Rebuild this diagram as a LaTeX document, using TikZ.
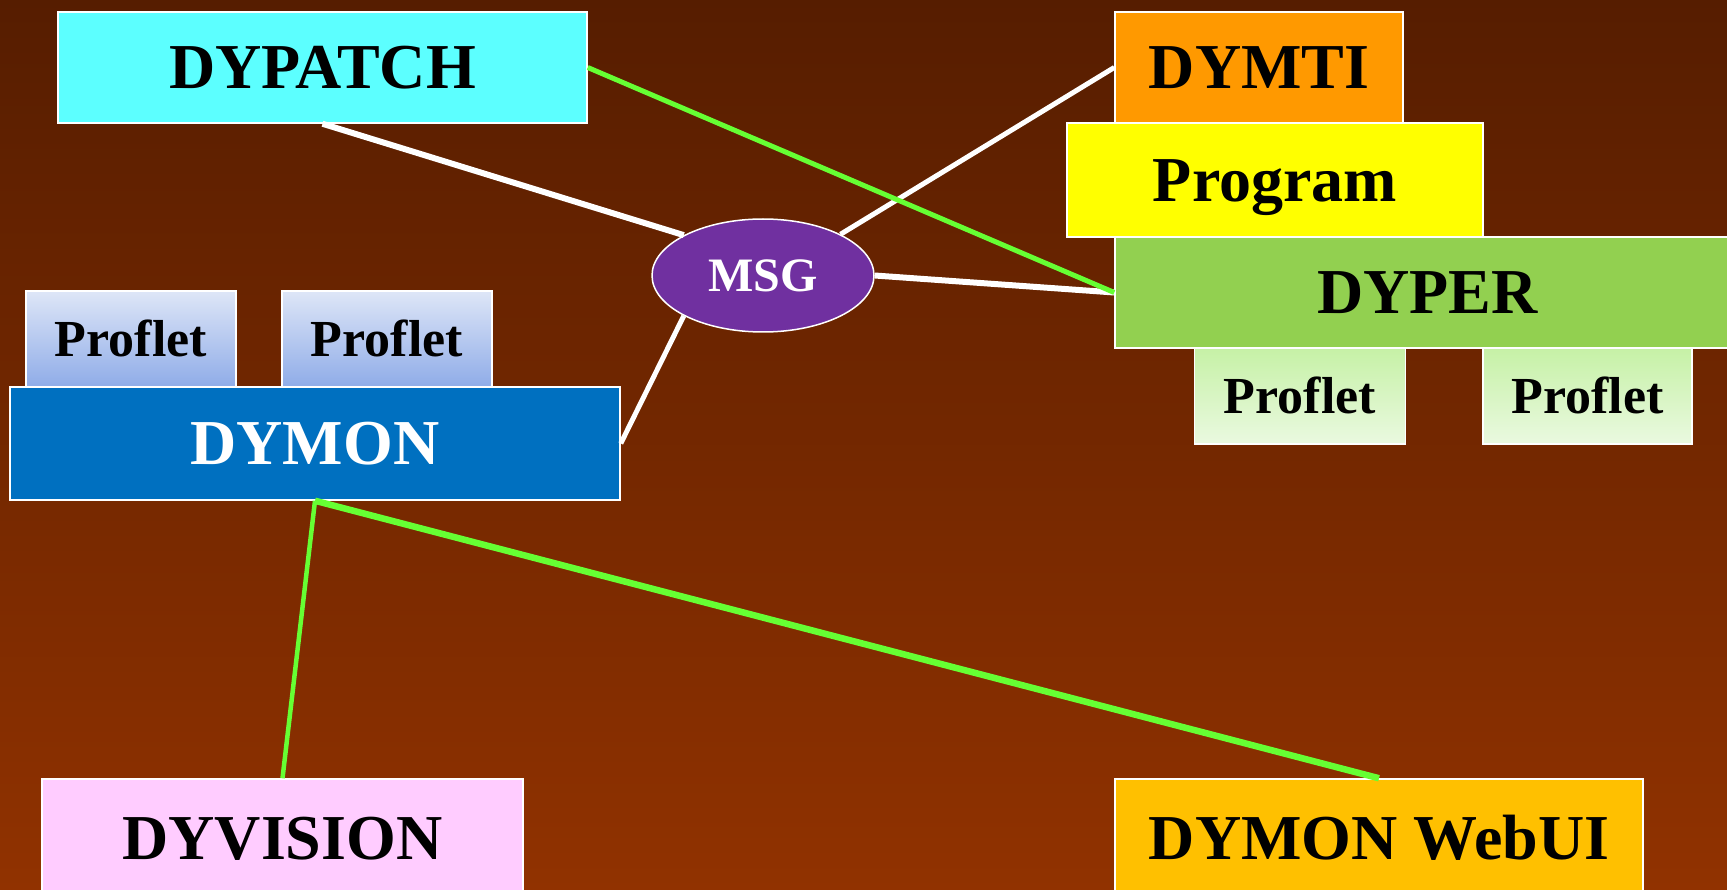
\documentclass[tikz,border=0pt]{standalone}
\usepackage{fontspec}
\setmainfont{Liberation Serif}
\usetikzlibrary{shapes.geometric}
\definecolor{bgtop}{RGB}{86,29,0}
\definecolor{bgbot}{RGB}{145,50,0}
\definecolor{cyanbox}{RGB}{92,255,255}
\definecolor{orangebox}{RGB}{255,153,0}
\definecolor{yellowbox}{RGB}{255,255,0}
\definecolor{greenbox}{RGB}{146,208,80}
\definecolor{bluebox}{RGB}{0,112,192}
\definecolor{purplemsg}{RGB}{112,48,160}
\definecolor{pinkbox}{RGB}{255,204,255}
\definecolor{goldbox}{RGB}{255,192,0}
\definecolor{linegreen}{RGB}{102,255,51}
\definecolor{plTop}{RGB}{222,230,247}
\definecolor{plBot}{RGB}{143,172,232}
\definecolor{prTop}{RGB}{198,241,166}
\definecolor{prBot}{RGB}{234,249,224}
\begin{document}
\begin{tikzpicture}[x=1pt,y=-1pt,
  box/.style={rectangle, draw=white, line width=1.5pt, inner sep=0pt,
    text depth=0pt, text height=42.4pt, font=\fontsize{64}{64}\selectfont\bfseries},
  smallbox/.style={box, text height=34.4pt, font=\fontsize{52}{52}\selectfont\bfseries},
  wline/.style={draw=white, line width=6pt},
  gline/.style={draw=linegreen, line width=5pt}
]
\useasboundingbox (0,0) rectangle (1727,890);
\clip (0,0) rectangle (1727,890);
\shade[top color=bgtop, bottom color=bgbot] (0,0) rectangle (1727,890);

% boxes
\node[box, fill=cyanbox, minimum width=529pt, minimum height=111pt] (dypatch) at (322.5,67.5) {DYPATCH};
\node[box, fill=orangebox, minimum width=288pt, minimum height=111pt] (dymti) at (1259,67.5) {DYMTI};
\node[box, fill=yellowbox, minimum width=416pt, minimum height=114pt] (program) at (1275,180) {Program};
\node[box, fill=greenbox, minimum width=625pt, minimum height=111pt] (dyper) at (1427.5,292.5) {DYPER};
\node[smallbox, top color=prTop, bottom color=prBot, minimum width=211pt, minimum height=96pt] (pr1) at (1300,396) {Proflet};
\node[smallbox, top color=prTop, bottom color=prBot, minimum width=209pt, minimum height=96pt] (pr2) at (1587.5,396) {Proflet};
\node[smallbox, top color=plTop, bottom color=plBot, minimum width=210pt, minimum height=96pt] (pl1) at (131,339) {Proflet};
\node[smallbox, top color=plTop, bottom color=plBot, minimum width=210pt, minimum height=96pt] (pl2) at (387,339) {Proflet};
\node[box, fill=bluebox, text=white, minimum width=610pt, minimum height=113pt] (dymon) at (315,443.5) {DYMON};
\node[box, fill=pinkbox, minimum width=481pt, minimum height=118pt] (dyvision) at (282.5,838) {DYVISION};
\node[box, fill=goldbox, minimum width=528pt, minimum height=118pt] (webui) at (1379,838) {DYMON WebUI};
\node[ellipse, draw=white, line width=1.5pt, fill=purplemsg, text=white, inner sep=0pt,
  minimum width=222pt, minimum height=113pt, text depth=0pt, text height=31.8pt,
  font=\fontsize{48}{48}\selectfont\bfseries] (msg) at (763,275.5) {MSG};

% white connectors
\draw[wline] (dypatch.south) -- (msg.153);
\draw[wline, line width=5pt] (dymti.west) -- (msg.28);
\draw[wline] (msg.east) -- (dyper.west);
\draw[wline, line width=5pt] (msg.207) -- (dymon.east);

% green connectors
\draw[gline] (dypatch.east) -- (dyper.west);
\draw[gline, line width=4.5pt] (dymon.south) -- (dyvision.north);
\draw[gline, line width=6.5pt] (dymon.south) -- (webui.north);
\end{tikzpicture}
\end{document}
